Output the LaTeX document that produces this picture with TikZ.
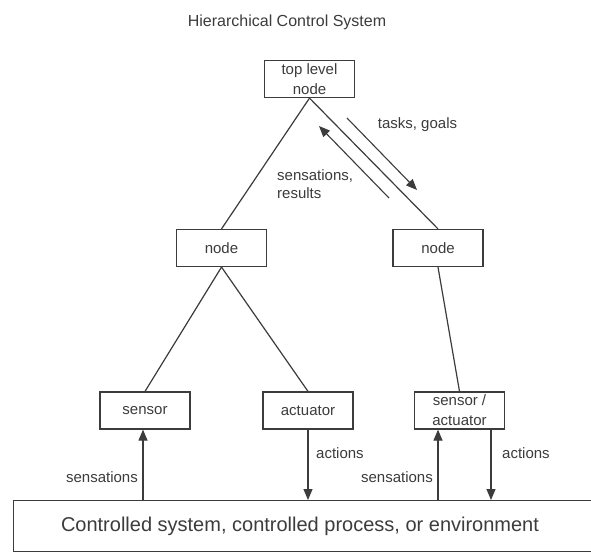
\documentclass[tikz,border=0pt]{standalone}
\usepackage{fontspec}
\setmainfont{Liberation Sans}
\usetikzlibrary{arrows.meta}
\definecolor{ink}{HTML}{3C3C3C}
\begin{document}
\begin{tikzpicture}[x=1pt,y=-1pt,
  box/.style={draw=ink, line width=1.2pt, minimum width=90pt, minimum height=37pt, inner sep=0pt, text=ink, font=\fontsize{15}{20}\selectfont, align=center},
  lbl/.style={text=ink, font=\fontsize{15}{18}\selectfont, inner sep=0pt},
  link/.style={draw=ink, line width=1.2pt},
  arr/.style={draw=ink, line width=1.1pt, -{Triangle[length=11pt,width=9pt]}},
]
\useasboundingbox (0,0) rectangle (591,552);
\fill[white] (0,0) rectangle (591,552);
\node[text=ink, font=\fontsize{16}{18}\selectfont] (title) at (287,22) {Hierarchical Control System};
% boxes
\node[box] (top) at (309.5,79) {top level\\node};
\node[box] (left) at (221.5,248) {node};
\node[box] (right) at (438,248) {node};
\node[box] (sensor) at (145,410.5) {sensor};
\node[box] (act) at (308,410.5) {actuator};
\node[box] (sa) at (459.5,410.5) {sensor /\\actuator};
\node[draw=ink, line width=1.2pt, minimum width=620pt, minimum height=51pt, anchor=north west, inner sep=0pt] (env) at (13,500) {};
\node[text=ink, font=\fontsize{20}{24}\selectfont] (envtext) at (300,526) {Controlled system, controlled process, or environment};
% tree links
\draw[link] (top.south) -- (left.north);
\draw[link] (top.south) -- (right.north);
\draw[link] (left.south) -- (sensor.north);
\draw[link] (left.south) -- (act.north);
\draw[link] (right.south) -- (sa.north);
% parallel arrows
\coordinate (t1) at (347,118);
\coordinate (t2) at (417,190);
\coordinate (s1) at (389,198);
\coordinate (s2) at (319,126);
\draw[arr] (t1) -- (t2);
\draw[arr] (s1) -- (s2);
\node[lbl] (tg) at (417.5,125) {tasks, goals};
\node[lbl, anchor=west, align=left] (sr) at (277,184) {sensations,\\results};
% bottom arrows
\draw[arr] ([xshift=-2pt]sensor.south |- env.north) -- ([xshift=-2pt]sensor.south);
\draw[arr] (act.south) -- (act.south |- env.north);
\draw[arr] ([xshift=-21.5pt]sa.south |- env.north) -- ([xshift=-21.5pt]sa.south);
\draw[arr] ([xshift=31.5pt]sa.south) -- ([xshift=31.5pt]sa.south |- env.north);
\node[lbl, anchor=east] (se1) at (138,477) {sensations};
\node[lbl, anchor=west] (ac1) at (316,453) {actions};
\node[lbl, anchor=east] (se2) at (433,477) {sensations};
\node[lbl, anchor=west] (ac2) at (502,453) {actions};
\end{tikzpicture}
\end{document}
